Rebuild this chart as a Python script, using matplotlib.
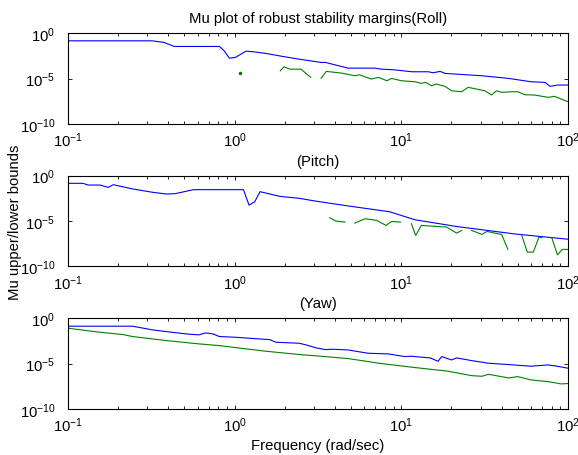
import numpy as np
import matplotlib
matplotlib.use("Agg")
import matplotlib.pyplot as plt
from matplotlib.ticker import LogLocator, NullLocator

plt.rcParams['font.family'] = ['Liberation Sans', 'DejaVu Sans']
plt.rcParams['mathtext.fontset'] = 'custom'
plt.rcParams['mathtext.rm'] = 'Liberation Sans'
plt.rcParams['axes.unicode_minus'] = False

nan = np.nan

# values are log10(mu)
roll_up_f = [0.1, 0.32, 0.378, 0.434, 0.81, 0.866, 0.93, 1.01, 1.17, 1.3, 1.54, 1.94, 2.44,
             3.3, 3.5, 4.8, 6.9, 7.6, 9.0, 11.6, 14.5, 15.5, 17.1, 18.3, 30.5, 44, 60, 73,
             78, 87, 100]
roll_up_v = [-0.84, -0.84, -1.02, -1.46, -1.46, -1.94, -2.75, -2.67, -1.98, -2.05, -2.23,
             -2.56, -2.86, -3.22, -3.22, -3.85, -3.85, -3.96, -4.03, -4.25, -4.25, -4.36,
             -4.21, -4.43, -4.69, -4.98, -5.35, -5.42, -5.86, -5.71, -5.71]
roll_lo_f = [1.88, 1.98, 2.14, 2.5, 2.86, 3.05,
             3.3, 3.55, 4.4, 5.26, 5.6, 6.6, 7.3, 8.2, 8.75, 10, 12.1, 13.2, 14.0, 15.2,
             16.2, 18.3, 20, 23, 25.2, 31.7, 34.8, 37.3, 40, 46, 50, 55, 63, 76, 83, 100]
roll_lo_v = [-4.14, -3.7, -3.96, -3.96, -4.87, nan,
             -4.98, -4.21, -4.4, -4.69, -4.58, -5.05, -4.87, -5.24, -4.98, -5.24, -5.35,
             -5.53, -5.42, -5.79, -5.6, -5.86, -6.34, -6.45, -5.97, -6.34, -6.81, -6.34,
             -6.52, -6.45, -6.45, -6.78, -6.81, -7.07, -6.96, -7.55]
roll_dot_f = [1.07]
roll_dot_v = [-4.36]

pitch_up_f = [0.1, 0.123, 0.132, 0.156, 0.174, 0.187, 0.246, 0.325, 0.39, 0.44, 0.565,
              1.13, 1.22, 1.32, 1.42, 1.87, 2.46, 2.97, 4.7, 8.5, 12.1, 21.5, 48, 100]
pitch_up_v = [-0.84, -0.84, -1.03, -1.03, -1.29, -0.99, -1.47, -1.84, -2.02, -1.98,
              -1.54, -1.54, -3.24, -2.87, -1.76, -2.28, -2.5, -2.76, -3.31, -3.97, -4.86,
              -5.6, -6.42, -7.0]
pitch_lo_f = [3.72, 4.04, 4.6, 4.9,
              5.26, 6.05, 7.1, 8.1, 8.75, 9.9, 10.7,
              11.5, 12.2, 13.2, 18.7, 21.5, 23, 24.6,
              26.4, 30.5, 32.7, 36.5, 40, 43.6, 48,
              52.7, 57, 62, 67, 70, 75,
              80, 86.5, 92.6, 100]
pitch_lo_v = [-4.63, -5.0, -5.11, nan,
              -5.22, -4.74, -4.92, -5.48, -5.04, -5.11, nan,
              -5.3, -6.58, -5.48, -5.66, -6.33, -6.03, nan,
              -6.03, -6.47, -6.14, -6.33, -6.47, -8.12, nan,
              -6.51, -8.42, -8.42, -6.77, -6.84, nan,
              -6.84, -8.72, -8.12, -8.12]

yaw_up_f = [0.1, 0.244, 0.322, 0.387, 0.51, 0.61, 0.67, 0.74, 0.81, 1.01, 1.62, 1.77,
            2.44, 2.68, 3.08, 3.5, 3.9, 4.8, 6.3, 8.4, 10.5, 11.5, 14.9, 16.6, 17.5, 20.0,
            21.5, 26.4, 33.3, 44, 60, 76, 86, 100]
yaw_up_v = [-0.88, -0.88, -1.29, -1.47, -1.73, -1.84, -1.62, -1.73, -2.02, -2.1, -2.36,
            -2.65, -2.76, -2.94, -3.27, -3.46, -3.42, -3.5, -3.86, -3.94, -4.23, -4.19,
            -4.38, -4.74, -4.23, -4.6, -4.38, -4.67, -4.96, -5.11, -5.29, -5.15, -5.29,
            -5.51]
yaw_lo_f = [0.1, 0.154, 0.213, 0.244, 0.387, 0.61, 0.81, 1.17, 1.54, 2.44, 3.3, 4.8, 7.6,
            12.1, 19.1, 26.4, 30.5, 33.3, 44, 50, 60, 76, 91, 100]
yaw_lo_v = [-1.1, -1.54, -1.8, -2.02, -2.46, -2.83, -3.02, -3.38, -3.64, -4.0, -4.19,
            -4.45, -5.0, -5.44, -5.84, -6.33, -6.4, -6.18, -6.58, -6.44, -6.8, -6.99,
            -7.24, -7.2]

titles = ["Mu plot of robust stability margins(Roll)", "(Pitch)", "(Yaw)"]

blue = (0, 0, 1)
green = (0, 0.5, 0)
fs = 10.7

fig = plt.figure(figsize=(5.78, 4.56), dpi=100)
boxes = [[0.1176, 0.726, 0.865, 0.199],
         [0.1176, 0.4135, 0.865, 0.199],
         [0.1176, 0.101, 0.865, 0.199]]

panels = [(roll_up_f, roll_up_v, roll_lo_f, roll_lo_v),
          (pitch_up_f, pitch_up_v, pitch_lo_f, pitch_lo_v),
          (yaw_up_f, yaw_up_v, yaw_lo_f, yaw_lo_v)]

for i, (uf, uv, lf, lv) in enumerate(panels):
    ax = fig.add_axes(boxes[i])
    ax.plot(uf, 10 ** np.array(uv), color=blue, lw=0.8)
    ax.plot(lf, 10 ** np.array(lv), color=green, lw=0.8)
    if i == 0:
        ax.plot(roll_dot_f, 10 ** np.array(roll_dot_v), '.', color=green, ms=3)
    ax.set_xscale('log')
    ax.set_yscale('log')
    ax.set_xlim(0.1, 100)
    ax.set_ylim(1e-10, 1)
    ax.set_yticks([1e-10, 1e-5, 1])
    ax.yaxis.set_minor_locator(NullLocator())
    ax.xaxis.set_minor_locator(LogLocator(base=10, subs=np.arange(2, 10)))
    ax.tick_params(which='both', direction='in', top=True, right=True, width=0.6,
                   labelsize=fs)
    ax.tick_params(which='major', length=3)
    ax.tick_params(axis='x', which='major', pad=5)
    ax.tick_params(axis='y', which='major', pad=9)
    ax.tick_params(which='minor', length=2)
    for s in ax.spines.values():
        s.set_linewidth(0.8)
    ax.set_title(titles[i], fontsize=fs, pad=8)

fig.text(0.026, 0.513, "Mu upper/lower bounds", rotation=90, ha='center', va='center',
         fontsize=fs)
fig.text(0.55, 0.021, "Frequency (rad/sec)", ha='center', va='center', fontsize=fs)

fig.savefig("out.png", dpi=100)
